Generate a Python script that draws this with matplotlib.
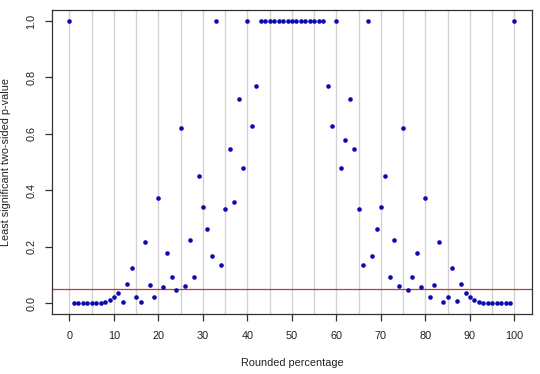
import matplotlib
matplotlib.use("Agg")
import matplotlib.pyplot as plt
import numpy as np

plt.rcParams['font.family'] = ['Liberation Sans', 'DejaVu Sans']

percent = list(range(0, 101))
pvalue = [
    1.0, 0.0005, 0.0005, 0.0005, 0.0005, 0.0005, 0.0005, 0.001, 0.005, 0.01,   # 0-9
    0.021, 0.037, 0.002, 0.068, 0.123, 0.022, 0.002, 0.217, 0.064, 0.02,      # 10-19
    0.372, 0.057, 0.177, 0.091, 0.046, 0.621, 0.061, 0.224, 0.093, 0.451,     # 20-29
    0.34, 0.263, 0.166, 1.0, 0.135, 0.332, 0.545, 0.357, 0.722, 0.479,       # 30-39
    1.0, 0.627, 0.77, 1.0, 1.0, 1.0, 1.0, 1.0, 1.0, 1.0,                     # 40-49
    1.0, 1.0, 1.0, 1.0, 1.0, 1.0, 1.0, 1.0, 0.77, 0.627,                     # 50-59
    1.0, 0.479, 0.577, 0.722, 0.545, 0.332, 0.135, 1.0, 0.166, 0.263,        # 60-69
    0.34, 0.451, 0.093, 0.224, 0.061, 0.621, 0.046, 0.091, 0.177, 0.057,     # 70-79
    0.372, 0.02, 0.064, 0.217, 0.002, 0.022, 0.123, 0.007, 0.068, 0.037,     # 80-89
    0.021, 0.01, 0.005, 0.001, 0.0005, 0.0005, 0.0005, 0.0005, 0.0005, 0.0005,  # 90-99
    1.0,                                                                      # 100
]
alpha = 0.05
grid_x = list(range(0, 101, 5))
xticks = list(range(0, 101, 10))
yticks = [0.0, 0.2, 0.4, 0.6, 0.8, 1.0]

fig = plt.figure(figsize=(5.40, 3.74), dpi=100)
ax = fig.add_axes([0.0957, 0.1596, 0.89, 0.8144])

for g in grid_x:
    ax.axvline(g, color='#d3d3d3', lw=1.0, zorder=0)
ax.axhline(alpha, color='#cc3333', lw=0.9, zorder=1)
ax.plot(percent, pvalue, linestyle='none', marker='o', markersize=3.3,
        color='#0a0ab0', markeredgewidth=0, zorder=3)

ax.set_xlim(-4, 104)
ax.set_ylim(-0.04, 1.04)
ax.set_xticks(xticks)
ax.set_xticklabels([str(t) for t in xticks])
ax.set_yticks(yticks)
ax.set_yticklabels(['%.1f' % t for t in yticks], rotation=90, va='center')

for s in ax.spines.values():
    s.set_color('#333333')
    s.set_linewidth(0.9)
ax.tick_params(axis='x', direction='out', length=5, width=0.9,
               color='#333333', labelsize=7.8, labelcolor='#222222', pad=7)
ax.tick_params(axis='y', direction='out', length=5, width=0.9,
               color='#333333', labelsize=7.8, labelcolor='#222222', pad=6)

ax.set_xlabel('Rounded percentage', fontsize=7.8, color='#222222', va='center')
ax.xaxis.set_label_coords(0.5, -0.159)
ax.set_ylabel('Least significant two-sided p-value', fontsize=7.8,
              color='#222222', va='center')
ax.yaxis.set_label_coords(-0.095, 0.5)

fig.savefig('out.png', dpi=100)
